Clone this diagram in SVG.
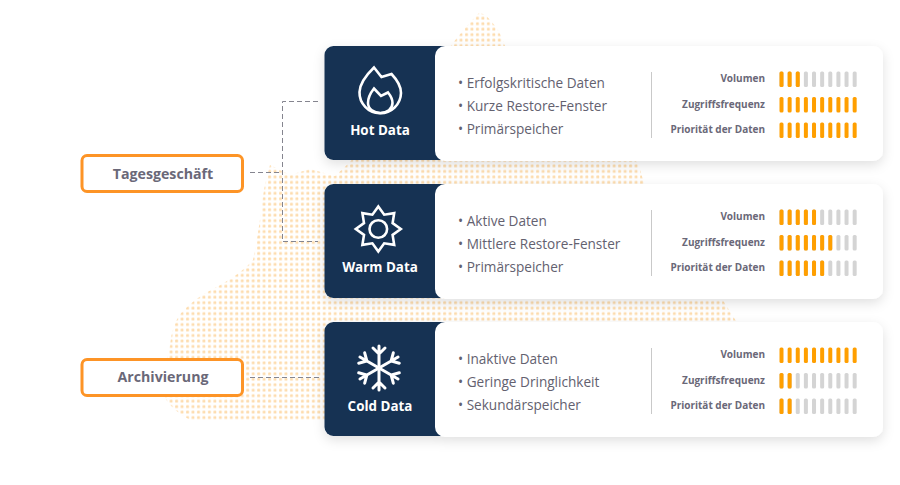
<svg xmlns="http://www.w3.org/2000/svg" xmlns:xlink="http://www.w3.org/1999/xlink" width="900" height="485" viewBox="0 0 900 485">
<style>
text{font-family:"Open Sans","Noto Sans","Liberation Sans",sans-serif}
.navy{fill:#123052}
.white{fill:#fff}
.list{font-size:13.6px;fill:#63616f}
.lbl{font-size:10px;font-weight:700;fill:#6a6878;text-anchor:end}
.title{font-size:13.4px;font-weight:700;fill:#fff;text-anchor:middle}
.tag{fill:#fff;stroke:#fd9426;stroke-width:3}
.tagt{font-size:14.2px;font-weight:700;fill:#6a6878;text-anchor:middle}
.div{stroke:#c9c9c9;stroke-width:1;fill:none}
.ico{fill:none;stroke:#fff;stroke-width:2.6;stroke-linejoin:miter;stroke-linecap:round}
.off{fill:#d4d4d4}.on{fill:#ff9f00}
.conn{fill:none;stroke:#85858f;stroke-width:1;stroke-dasharray:5 3}
</style>
<defs>
<pattern id="dots" width="5.47" height="5.47" patternUnits="userSpaceOnUse"><rect x="0.15" y="0.5" width="2.8" height="2.8" rx=".4" fill="#fddcae"/></pattern>
<filter id="sh" x="-10%" y="-20%" width="120%" height="150%"><feDropShadow dx="0" dy="4" stdDeviation="6" flood-color="#000" flood-opacity=".12"/></filter>
<g id="r2"><rect x="0" width="4" height="15.5" rx="1.5"/><rect x="8.13" width="4" height="15.5" rx="1.5"/></g>
<g id="r3"><use href="#r2"/><rect x="16.26" width="4" height="15.5" rx="1.5"/></g>
<g id="r5"><use href="#r3"/><rect x="24.39" width="4" height="15.5" rx="1.5"/><rect x="32.52" width="4" height="15.5" rx="1.5"/></g>
<g id="r6"><use href="#r5"/><rect x="40.65" width="4" height="15.5" rx="1.5"/></g>
<g id="r7"><use href="#r6"/><rect x="48.78" width="4" height="15.5" rx="1.5"/></g>
<g id="r10"><use href="#r7"/><rect x="56.91" width="4" height="15.5" rx="1.5"/><rect x="65.04" width="4" height="15.5" rx="1.5"/><rect x="73.17" width="4" height="15.5" rx="1.5"/></g>
<g id="arm"><path d="M0 0V-22M-6 -20L0 -14L6 -20"/></g>
</defs>
<rect width="900" height="485" fill="#fff"/>
<path id="blob" fill="url(#dots)" d="M479 13Q486 14 490 20Q500 30 505 46L638 163L644 183L724 302L736 321L720 420L322 420L190 420Q172 410 165 398Q163 370 170 345Q172 325 181 313Q195 298 211 290Q240 275 253 260Q258 235 261 213Q263 188 270 165L290 175L310 169L335 176L349 163L440 60Q455 40 465 28Z"/>
<g id="connectors">
<path class="conn" d="M318 101.500H282.500V241.500H318"/>
<path class="conn" d="M250 172.500H282"/>
<path class="conn" d="M250 377.500H320"/>
</g>
<g id="tag-tagesgeschaeft"><rect class="tag" x="82" y="155.500" width="160.500" height="36" rx="5"/><text class="tagt" x="163" y="178.500">Tagesgeschäft</text></g>
<g id="tag-archivierung"><rect class="tag" x="82" y="359.500" width="160.500" height="36" rx="5"/><text class="tagt" x="163" y="382">Archivierung</text></g>

<g id="hot">
<g filter="url(#sh)"><rect class="navy" x="324.500" y="46" width="130" height="114" rx="9"/><rect class="white" x="435" y="46" width="448" height="115" rx="10"/></g>
<path class="ico" d="M374 67.500L381.500 77L391.500 74Q401 84 401 93A20.500 20.500 0 0 1 359.500 92Q360 81 374 67.500Z"/>
<path class="ico" d="M368 103Q368 96 374 88.500L381 96L388 92.500Q392.500 98 392.500 103C392.500 109 387 113 380.500 113C374 113 368 109 368 103Z"/>
<text class="title" x="380" y="135">Hot Data</text>
<text class="list" x="458" y="88">• Erfolgskritische Daten</text>
<text class="list" x="458" y="111">• Kurze Restore-Fenster</text>
<text class="list" x="458" y="134">• Primärspeicher</text>
<path class="div" d="M651.500 72V138"/>
<text class="lbl" x="765" y="82">Volumen</text><text class="lbl" x="765" y="108">Zugriffsfrequenz</text><text class="lbl" x="765" y="133">Priorität der Daten</text>
<use href="#r10" class="off" x="779.500" y="71.500"/><use href="#r3" class="on" x="779.500" y="71.500"/>
<use href="#r10" class="on" x="779.500" y="97"/>
<use href="#r10" class="on" x="779.500" y="122.500"/>
</g>

<g id="warm">
<g filter="url(#sh)"><rect class="navy" x="324.500" y="184" width="130" height="114" rx="9"/><rect class="white" x="435" y="184" width="448" height="115" rx="10"/></g>
<path class="ico" d="M378.300 206.500L384.200 214.700L394.200 213.100L392.600 223.100L400.800 229L392.600 234.900L394.200 244.900L384.200 243.300L378.300 251.500L372.400 243.300L362.400 244.900L364 234.900L355.800 229L364 223.100L362.400 213.100L372.400 214.700Z"/>
<circle class="ico" cx="378.300" cy="229" r="8.800"/>
<text class="title" x="380" y="272">Warm Data</text>
<text class="list" x="458" y="226">• Aktive Daten</text>
<text class="list" x="458" y="249">• Mittlere Restore-Fenster</text>
<text class="list" x="458" y="272">• Primärspeicher</text>
<path class="div" d="M651.500 210V276"/>
<text class="lbl" x="765" y="220">Volumen</text><text class="lbl" x="765" y="246">Zugriffsfrequenz</text><text class="lbl" x="765" y="271">Priorität der Daten</text>
<use href="#r10" class="off" x="779.500" y="209.500"/><use href="#r5" class="on" x="779.500" y="209.500"/>
<use href="#r10" class="off" x="779.500" y="235"/><use href="#r7" class="on" x="779.500" y="235"/>
<use href="#r10" class="off" x="779.500" y="260.500"/><use href="#r6" class="on" x="779.500" y="260.500"/>
</g>

<g id="cold">
<g filter="url(#sh)"><rect class="navy" x="324.500" y="322" width="130" height="114" rx="9"/><rect class="white" x="435" y="322" width="448" height="115" rx="10"/></g>
<g class="ico" style="stroke-width:3" transform="translate(379 368)">
<use href="#arm"/><use href="#arm" transform="rotate(60)"/><use href="#arm" transform="rotate(120)"/><use href="#arm" transform="rotate(180)"/><use href="#arm" transform="rotate(240)"/><use href="#arm" transform="rotate(300)"/>
</g>
<text class="title" x="380" y="411">Cold Data</text>
<text class="list" x="458" y="364">• Inaktive Daten</text>
<text class="list" x="458" y="387">• Geringe Dringlichkeit</text>
<text class="list" x="458" y="410">• Sekundärspeicher</text>
<path class="div" d="M651.500 348V414"/>
<text class="lbl" x="765" y="358">Volumen</text><text class="lbl" x="765" y="384">Zugriffsfrequenz</text><text class="lbl" x="765" y="409">Priorität der Daten</text>
<use href="#r10" class="on" x="779.500" y="347.500"/>
<use href="#r10" class="off" x="779.500" y="373"/><use href="#r2" class="on" x="779.500" y="373"/>
<use href="#r10" class="off" x="779.500" y="398.500"/><use href="#r2" class="on" x="779.500" y="398.500"/>
</g>
</svg>
